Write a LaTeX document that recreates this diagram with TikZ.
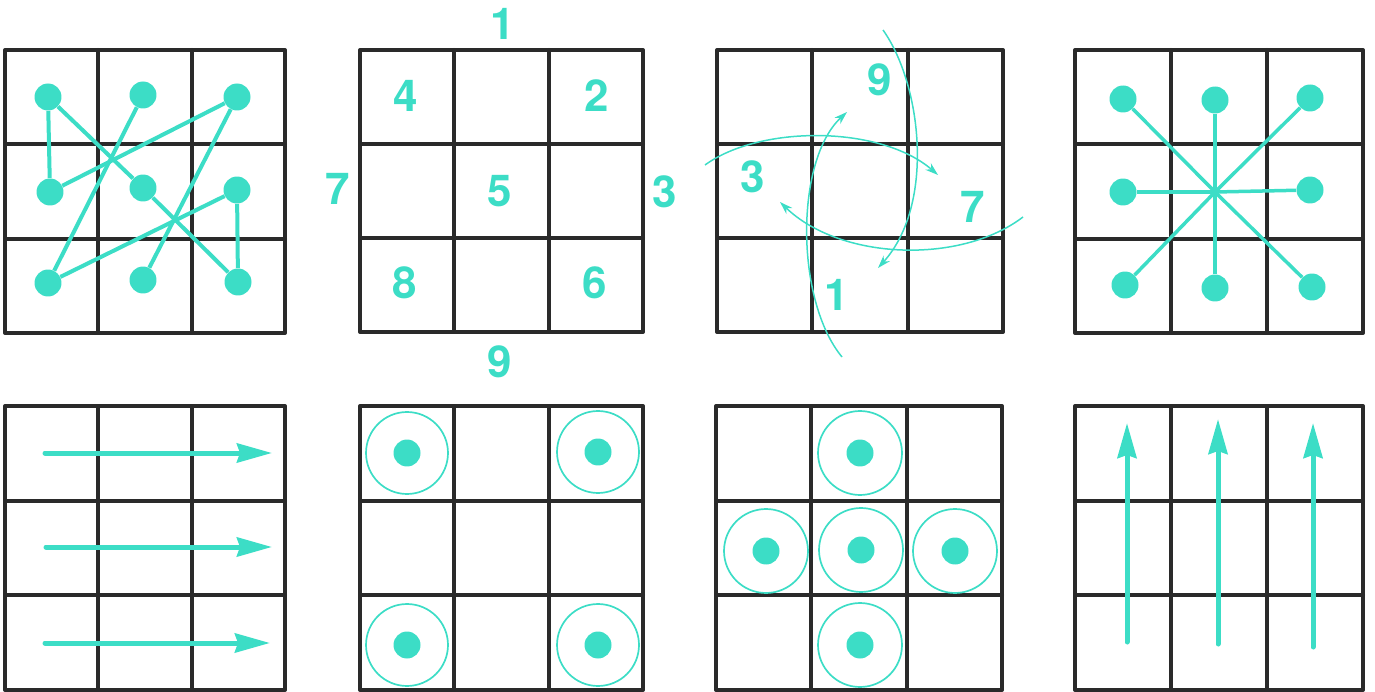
\documentclass[tikz,border=0pt]{standalone}
\usepackage{fontspec}
\setmainfont{TeX Gyre Heros}
\usetikzlibrary{arrows.meta}
\definecolor{teal1}{RGB}{60,221,198}
\definecolor{ink}{RGB}{42,42,42}
% #1 left, #2 top, #3 width, #4 height
\newcommand\tttgrid[4]{%
  \draw[gridline] (#1,#2) rectangle ++(#3,#4);
  \draw[gridline] (#1+#3/3,#2) -- (#1+#3/3,#2+#4);
  \draw[gridline] (#1+2*#3/3,#2) -- (#1+2*#3/3,#2+#4);
  \draw[gridline] (#1,#2+#4/3) -- (#1+#3,#2+#4/3);
  \draw[gridline] (#1,#2+2*#4/3) -- (#1+#3,#2+2*#4/3);
}
\begin{document}
\begin{tikzpicture}[x=0.02cm,y=-0.02cm,
  gridline/.style={draw=ink,line width=0.08cm,line join=round,line cap=round},
  dot/.style={circle,fill=teal1,inner sep=0,minimum size=0.54cm},
  link/.style={draw=teal1,line width=0.08cm},
  ring/.style={circle,draw=teal1,line width=0.034cm,minimum size=1.64cm,inner sep=0},
  num/.style={text=teal1,font=\fontsize{25}{25}\selectfont\bfseries,inner sep=0},
  bigarrow/.style={draw=teal1,line width=0.1cm,line cap=round,-{Stealth[length=0.7cm,width=0.38cm,inset=0.06cm]}},
  swirl/.style={draw=teal1,line width=0.03cm,-{Stealth[length=0.26cm,width=0.17cm]}}
]
\useasboundingbox (0,0) rectangle (1375,692);
% ---------- grids ----------
\tttgrid{5}{50}{280}{283}
\tttgrid{360}{50}{283}{282}
\tttgrid{717}{50}{286}{282}
\tttgrid{1075}{50}{288}{283}
\tttgrid{5}{406}{280}{284}
\tttgrid{360}{406}{283}{284}
\tttgrid{716}{406}{286}{284}
\tttgrid{1075}{406}{288}{284}

% ---------- grid 1 : path ----------
\node[dot] (a1) at (48,97) {};
\node[dot] (a2) at (143,95) {};
\node[dot] (a3) at (237,97) {};
\node[dot] (a4) at (50,192) {};
\node[dot] (a5) at (143,188) {};
\node[dot] (a6) at (237,190) {};
\node[dot] (a7) at (48,283) {};
\node[dot] (a8) at (143,280) {};
\node[dot] (a9) at (238,282) {};
\draw[link] (a1) -- (a4);
\draw[link] (a1) -- (a5);
\draw[link] (a5) -- (a9);
\draw[link] (a4) -- (a3);
\draw[link] (a2) -- (a7);
\draw[link] (a3) -- (a8);
\draw[link] (a7) -- (a6);
\draw[link] (a6) -- (a9);

% ---------- grid 2 : numbers ----------
\node[num] (n1) at (503,24) {1};
\node[num] (n4) at (406,96) {4};
\node[num] (n2) at (597,96) {2};
\node[num] (n7) at (338,189) {7};
\node[num] (n5) at (500,191) {5};
\node[num] (n3) at (665,192) {3};
\node[num] (n8) at (405,283) {8};
\node[num] (n6) at (595,283) {6};
\node[num] (n9) at (500,362) {9};

% ---------- grid 3 : rotation ----------
\node[num] (m9) at (880,80) {9};
\node[num] (m3) at (753,177) {3};
\node[num] (m7) at (973,207) {7};
\node[num] (m1) at (837,295) {1};
\coordinate (sA) at (883,30);   \coordinate (eA) at (878,268);
\coordinate (sB) at (705,165);  \coordinate (eB) at (938,175);
\coordinate (sC) at (842,357);  \coordinate (eC) at (847,112);
\coordinate (sD) at (1023,217); \coordinate (eD) at (780,202);
\draw[swirl] (sA) .. controls (922,85) and (935,205) .. (eA);
\draw[swirl] (sB) .. controls (760,125) and (880,125) .. (eB);
\draw[swirl] (sC) .. controls (795,300) and (795,160) .. (eC);
\draw[swirl] (sD) .. controls (960,265) and (840,260) .. (eD);

% ---------- grid 4 : star ----------
\coordinate (bc) at (1215,192);
\node[dot] (b1) at (1123,99) {};
\node[dot] (b2) at (1215,100) {};
\node[dot] (b3) at (1310,98) {};
\node[dot] (b4) at (1123,192) {};
\node[dot] (b6) at (1310,190) {};
\node[dot] (b7) at (1125,285) {};
\node[dot] (b8) at (1215,288) {};
\node[dot] (b9) at (1312,287) {};
\foreach \b in {b1,b2,b3,b4,b6,b7,b8,b9}{\draw[link,line width=0.07cm] (\b) -- (bc);}

% ---------- grid 5 : horizontal arrows ----------
\coordinate (h1s) at (45,453);  \coordinate (h1e) at (272,453);
\coordinate (h2s) at (46,547);  \coordinate (h2e) at (272,547);
\coordinate (h3s) at (45,643);  \coordinate (h3e) at (270,643);
\draw[bigarrow] (h1s) -- (h1e);
\draw[bigarrow] (h2s) -- (h2e);
\draw[bigarrow] (h3s) -- (h3e);

% ---------- grid 6 : corner rings ----------
\foreach \n/\p in {c1/{(407,453)},c3/{(598,452)},c7/{(407,645)},c9/{(598,645)}}{
  \node[ring] (\n r) at \p {};
  \node[dot] (\n d) at \p {};
}

% ---------- grid 7 : cross rings ----------
\foreach \n/\p in {d2/{(860,453)},d4/{(766,551)},d5/{(861,550)},d6/{(955,551)},d8/{(860,645)}}{
  \node[ring,minimum size=1.68cm] (\n r) at \p {};
  \node[dot] (\n d) at \p {};
}

% ---------- grid 8 : vertical arrows ----------
\coordinate (v1s) at (1127,642); \coordinate (v1e) at (1127,423);
\coordinate (v2s) at (1218,644); \coordinate (v2e) at (1218,419);
\coordinate (v3s) at (1313,647); \coordinate (v3e) at (1313,423);
\draw[bigarrow] (v1s) -- (v1e);
\draw[bigarrow] (v2s) -- (v2e);
\draw[bigarrow] (v3s) -- (v3e);
\end{tikzpicture}
\end{document}
